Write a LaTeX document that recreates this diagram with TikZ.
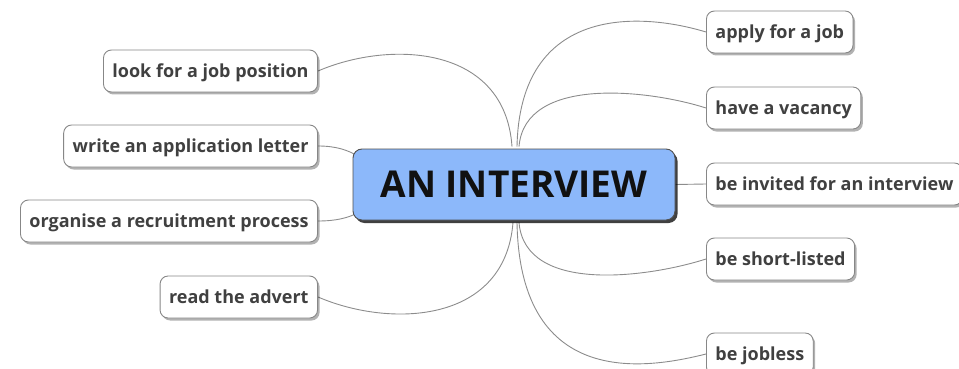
\documentclass[tikz,border=0pt]{standalone}
\usepackage{fontspec}
\setmainfont{Open Sans}
\usetikzlibrary{shadows,backgrounds}
\definecolor{leaftext}{RGB}{64,64,64}
\definecolor{leafborder}{RGB}{135,135,135}
\definecolor{linecol}{RGB}{140,140,140}
\definecolor{centerfill}{RGB}{140,184,250}
\definecolor{centerborder}{RGB}{80,80,80}
\tikzset{
  leaf/.style={draw=leafborder, fill=white, rounded corners=8pt, line width=0.9pt,
    minimum height=42pt, inner xsep=9pt, text=leaftext, text height=17.5pt, text depth=4pt,
    font=\fontsize{18}{20}\selectfont\bfseries,
    drop shadow={shadow xshift=2pt, shadow yshift=-2.5pt, fill=black, opacity=0.3}},
  hub/.style={draw=centerborder, fill=centerfill, rounded corners=9pt, line width=0.9pt,
    minimum width=322pt, minimum height=71pt, text={rgb,255:red,17;green,17;blue,17},
    font=\fontsize{37}{40}\selectfont\bfseries,
    drop shadow={shadow xshift=2.5pt, shadow yshift=-3pt, fill=black, opacity=0.75}},
  link/.style={draw=linecol, line width=0.9pt}
}
\begin{document}
\begin{tikzpicture}[x=1pt,y=-1pt]
\useasboundingbox (0,0) rectangle (959,369);
\clip (0,0) rectangle (959,369);
\node[hub] (c) at (514,184.5) {AN INTERVIEW};
\node[leaf, anchor=east] (a1) at (318,71) {look for a job position};
\node[leaf, anchor=east] (a2) at (318,146) {write an application letter};
\node[leaf, anchor=east] (a3) at (318,221) {organise a recruitment process};
\node[leaf, anchor=east] (a4) at (318,297) {read the advert};
\node[leaf, anchor=west] (b1) at (706,32) {apply for a job};
\node[leaf, anchor=west] (b2) at (706,108) {have a vacancy};
\node[leaf, anchor=west] (b3) at (706,184) {be invited for an interview};
\node[leaf, anchor=west] (b4) at (706,259) {be short-listed};
\node[leaf, anchor=west] (b5) at (706,354) {be jobless};
\coordinate (ct1) at ([xshift=-2pt,yshift=2pt]c.north);
\coordinate (ct2) at ([xshift=3pt,yshift=2pt]c.north);
\coordinate (ct3) at ([xshift=5pt,yshift=2pt]c.north);
\coordinate (cb1) at ([xshift=-1pt,yshift=-2pt]c.south);
\coordinate (cb2) at ([xshift=3pt,yshift=-2pt]c.south);
\coordinate (cb3) at ([xshift=5pt,yshift=-2pt]c.south);
\coordinate (cl1) at ([xshift=6pt,yshift=28pt]c.west);
\coordinate (cl2) at ([xshift=6pt,yshift=-28pt]c.west);
\begin{scope}[on background layer]
\draw[link] (a1.east) .. controls (390,40) and (505,45) .. (ct1);
\draw[link] (a4.east) .. controls (390,328) and (505,324) .. (cb1);
\draw[link] (a2.east) .. controls (336,146) and (348,150) .. (cl1);
\draw[link] (a3.east) .. controls (336,221) and (348,218) .. (cl2);
\draw[link] (b1.west) .. controls (640,12) and (520,5) .. (ct2);
\draw[link] (b2.west) .. controls (650,90) and (525,75) .. (ct3);
\draw[link] (b4.west) .. controls (650,277) and (525,295) .. (cb3);
\draw[link] (b5.west) .. controls (650,368) and (520,392) .. (cb2);
\draw[link] (c.east) -- (b3.west);
\end{scope}
\end{tikzpicture}
\end{document}
